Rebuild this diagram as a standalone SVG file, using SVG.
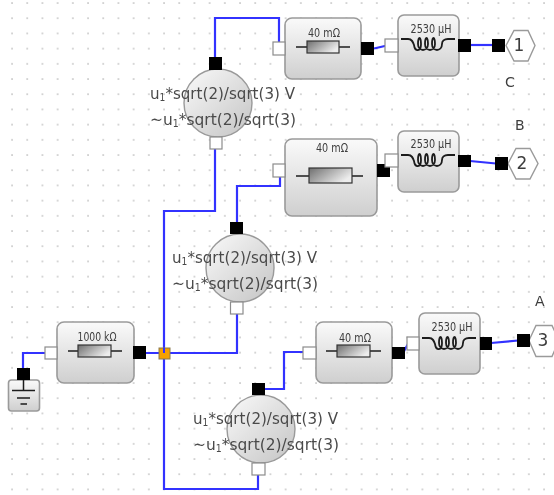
<svg xmlns="http://www.w3.org/2000/svg" xmlns:xlink="http://www.w3.org/1999/xlink" width="554" height="495" viewBox="0 0 554 495">
<style>
text{font-family:"DejaVu Sans","Liberation Sans",sans-serif;fill:#3d3d3d}
.block{fill:url(#blockFill);stroke:#9a9a9a;stroke-width:1.6}
.src{fill:url(#srcFill);stroke:#9a9a9a;stroke-width:1.4}
.in{fill:#fff;stroke:#8c8c8c;stroke-width:1.2}
.out{fill:#000}
.wire{fill:none;stroke:#3030ff;stroke-width:2.2}
.sym{fill:none;stroke:#1c1c1c;stroke-width:1.5}
.coil{fill:none;stroke:#1c1c1c;stroke-width:1.8}
.res{fill:url(#resFill);stroke:#333;stroke-width:1.2}
.val{font-size:12px;text-anchor:middle}
.eq{font-size:16.500px;fill:#4a4a4a}
.tag{font-size:14px}
.num{font-size:17px;text-anchor:middle}
.hex{fill:#fff;stroke:#9a9a9a;stroke-width:1.4}
</style>
<defs>
<filter id="soft" x="0" y="0" width="100%" height="100%"><feGaussianBlur stdDeviation="0.45"/></filter>
<pattern id="dots" x="12" y="3" width="15.2" height="15.2" patternUnits="userSpaceOnUse"><rect x="-0.7" y="-0.7" width="1.5" height="1.5" fill="#bcbcbc"/><rect x="14.5" y="-0.7" width="1.5" height="1.5" fill="#bcbcbc"/><rect x="-0.7" y="14.5" width="1.5" height="1.5" fill="#bcbcbc"/><rect x="14.5" y="14.5" width="1.5" height="1.5" fill="#bcbcbc"/></pattern>
<linearGradient id="blockFill" x1="0" y1="0" x2="0" y2="1"><stop offset="0" stop-color="#fafafa"/><stop offset="1" stop-color="#cfcfcf"/></linearGradient>
<linearGradient id="srcFill" x1="0" y1="0" x2="1" y2="1"><stop offset="0" stop-color="#fafafa"/><stop offset="1" stop-color="#c4c4c4"/></linearGradient>
<linearGradient id="resFill" x1="0" y1="0" x2="1" y2="0.5"><stop offset="0" stop-color="#6e6e6e"/><stop offset="1" stop-color="#ededed"/></linearGradient>
<path id="coil" class="coil" d="M0 0H7C11 0 12 3 13 6C14 13 20 13 20 5C20 -3 17 -3 17 5C17 13 27 13 27 5C27 -3 24 -3 24 5C24 13 34 13 34 5C34 -3 31 -3 31 5C31 13 41 13 41 5C41 2 43 0 47 0H54"/>
</defs>
<rect width="554" height="495" fill="#fff"/>
<g filter="url(#soft)">
<rect width="554" height="495" fill="url(#dots)"/>
<g id="connectors">
<path class="wire" d="M215 60V18H279V44"/>
<path class="wire" d="M374 48.500L387 45.500"/>
<path class="wire" d="M470 45H493"/>
<path class="wire" d="M215 148V211H164V489H258V470"/>
<path class="wire" d="M237 224V186H280V172"/>
<path class="wire" d="M388 171L390 160"/>
<path class="wire" d="M470 161L496 163.500"/>
<path class="wire" d="M146 353H237V312"/>
<path class="wire" d="M262 389H284V352H304"/>
<path class="wire" d="M403 353L408 344"/>
<path class="wire" d="M491 343L518 340.500"/>
<path class="wire" d="M23 369V353H46"/>
</g>
<g id="ground"><rect class="block" x="8.500" y="380" width="31" height="31" rx="3"/><path class="sym" d="M23.500 380V390M12 390.500H35M17 398H30M20.500 404H27"/><rect class="out" x="17" y="368" width="13" height="12"/></g>
<g id="r0"><rect class="block" x="57" y="322" width="77" height="61" rx="7"/><path class="sym" d="M68 351H122"/><rect class="res" x="78" y="345" width="33" height="12"/><text class="val" x="97" y="341" textLength="39" lengthAdjust="spacingAndGlyphs">1000 kΩ</text><rect class="in" x="45" y="347" width="12" height="12"/><rect class="out" x="133" y="346" width="13" height="13"/></g>
<g id="junction"><rect x="159" y="348" width="11" height="11" fill="#f5a000" stroke="#8a7a50"/><path d="M164 348V353" stroke="#3030ff" stroke-width="2"/></g>
<g id="source1"><circle class="src" cx="218" cy="103" r="34"/><rect class="out" x="209" y="57" width="13" height="13"/><rect class="in" x="210" y="137" width="12" height="12"/><text class="eq" x="150" y="99" textLength="145" lengthAdjust="spacingAndGlyphs">u<tspan font-size="10" dy="2">1</tspan><tspan dy="-2">*sqrt(2)/sqrt(3) V</tspan></text><text class="eq" x="150" y="125" textLength="146" lengthAdjust="spacingAndGlyphs">∼u<tspan font-size="10" dy="2">1</tspan><tspan dy="-2">*sqrt(2)/sqrt(3)</tspan></text></g>
<g id="source2"><circle class="src" cx="240" cy="268" r="34"/><rect class="out" x="230" y="222" width="13" height="12"/><rect class="in" x="230.500" y="302" width="12.500" height="12"/><text class="eq" x="172" y="263" textLength="145" lengthAdjust="spacingAndGlyphs">u<tspan font-size="10" dy="2">1</tspan><tspan dy="-2">*sqrt(2)/sqrt(3) V</tspan></text><text class="eq" x="172" y="289" textLength="146" lengthAdjust="spacingAndGlyphs">∼u<tspan font-size="10" dy="2">1</tspan><tspan dy="-2">*sqrt(2)/sqrt(3)</tspan></text></g>
<g id="source3"><circle class="src" cx="261" cy="429" r="34"/><rect class="out" x="252" y="383" width="13" height="12"/><rect class="in" x="252" y="463" width="13" height="12"/><text class="eq" x="193" y="424" textLength="145" lengthAdjust="spacingAndGlyphs">u<tspan font-size="10" dy="2">1</tspan><tspan dy="-2">*sqrt(2)/sqrt(3) V</tspan></text><text class="eq" x="193" y="450" textLength="146" lengthAdjust="spacingAndGlyphs">∼u<tspan font-size="10" dy="2">1</tspan><tspan dy="-2">*sqrt(2)/sqrt(3)</tspan></text></g>
<g id="r1"><rect class="block" x="285" y="18" width="76" height="61" rx="7"/><path class="sym" d="M296 47H350"/><rect class="res" x="307" y="41" width="32" height="12"/><text class="val" x="324" y="37" textLength="32" lengthAdjust="spacingAndGlyphs">40 mΩ</text><rect class="in" x="273" y="42" width="12" height="13"/><rect class="out" x="361" y="42" width="13" height="13"/></g>
<g id="r2"><rect class="block" x="285" y="139" width="92" height="77" rx="7"/><path class="sym" d="M296 176H363"/><rect class="res" x="309" y="168" width="43" height="15"/><text class="val" x="332" y="152" textLength="32" lengthAdjust="spacingAndGlyphs">40 mΩ</text><rect class="in" x="273" y="164" width="12" height="13"/><rect class="out" x="377" y="164" width="13" height="13"/></g>
<g id="r3"><rect class="block" x="316" y="322" width="76" height="61" rx="7"/><path class="sym" d="M326 351H381"/><rect class="res" x="337" y="345" width="33" height="12"/><text class="val" x="355" y="342" textLength="32" lengthAdjust="spacingAndGlyphs">40 mΩ</text><rect class="in" x="303" y="347" width="13" height="12"/><rect class="out" x="392" y="347" width="13" height="12"/></g>
<g id="l1"><rect class="block" x="398" y="15" width="61" height="61" rx="6"/><use xlink:href="#coil" href="#coil" x="401" y="39"/><text class="val" x="431" y="33" textLength="41" lengthAdjust="spacingAndGlyphs">2530 μH</text><rect class="in" x="385" y="39" width="13" height="13"/><rect class="out" x="458" y="39" width="13" height="13"/></g>
<g id="l2"><rect class="block" x="398" y="131" width="61" height="61" rx="6"/><use xlink:href="#coil" href="#coil" x="401" y="155"/><text class="val" x="431" y="148" textLength="41" lengthAdjust="spacingAndGlyphs">2530 μH</text><rect class="in" x="385" y="154" width="13" height="13"/><rect class="out" x="458" y="155" width="13" height="12"/></g>
<g id="l3"><rect class="block" x="419" y="313" width="61" height="61" rx="6"/><use xlink:href="#coil" href="#coil" x="422" y="338"/><text class="val" x="452" y="331" textLength="41" lengthAdjust="spacingAndGlyphs">2530 μH</text><rect class="in" x="407" y="337" width="12" height="13"/><rect class="out" x="480" y="337" width="12" height="13"/></g>
<g id="port1"><path class="hex" d="M506 45.500L514 30.500H528L535 45.500L528 61H514Z"/><rect class="out" x="492" y="39" width="13" height="13"/><text class="num" x="519" y="51">1</text></g>
<g id="port2"><path class="hex" d="M508 163.500L516 148.500H530L538 163.500L530 179H516Z"/><rect class="out" x="495" y="157" width="13" height="13"/><text class="num" x="522" y="169">2</text></g>
<g id="port3"><path class="hex" d="M529 340.500L536 325.500H552L559 340.500L552 356.500H536Z"/><rect class="out" x="517" y="334" width="13" height="13"/><text class="num" x="543" y="346">3</text></g>
<text class="tag" x="505" y="87">C</text>
<text class="tag" x="515" y="130">B</text>
<text class="tag" x="535" y="306">A</text>
</g>
</svg>
